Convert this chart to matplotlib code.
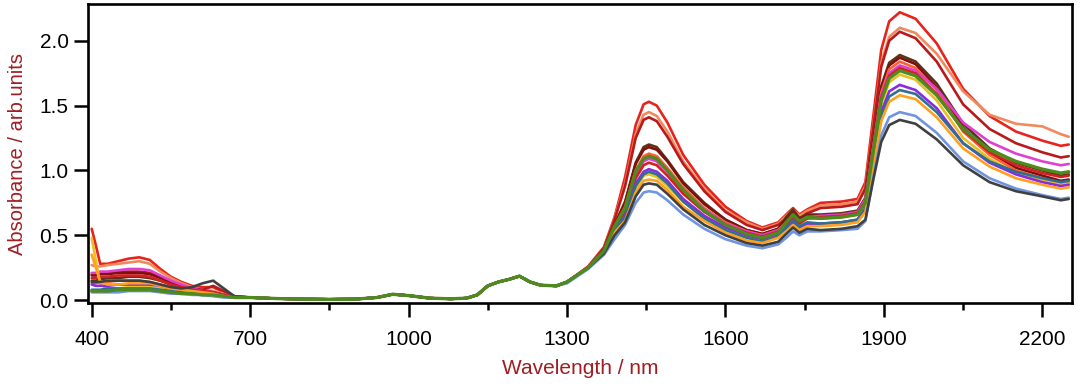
import numpy as np
import matplotlib.pyplot as plt

plt.rcParams['font.family'] = ['Liberation Sans', 'DejaVu Sans']

# wavelength grids (nm)
vis_wl = [400, 408, 416, 430, 450, 470, 490, 510, 530, 550, 570, 590, 610, 630, 650, 670]
mid_wl = [700, 750, 800, 850, 900, 940, 970, 1000, 1040, 1080, 1110, 1130, 1150, 1170,
          1190, 1210, 1230, 1250, 1280]
nir_wl = [1300, 1340, 1370, 1390, 1410, 1430, 1445, 1455, 1470, 1490, 1520, 1560, 1600,
          1640, 1670, 1700, 1715, 1728, 1740, 1755, 1780, 1820, 1850, 1865, 1880, 1895,
          1910, 1930, 1960, 2000, 2050, 2100, 2150, 2200, 2235, 2250]

# 700-1300 nm: all spectra lie on top of each other
mid_abs = [0.02, 0.012, 0.008, 0.006, 0.008, 0.02, 0.045, 0.035, 0.015, 0.01, 0.015,
           0.04, 0.11, 0.14, 0.16, 0.185, 0.14, 0.115, 0.11]

colors = ['#e8231c', '#f08a5d', '#b8191b', '#5c3317', '#7f1010', '#ff6030', '#e040d0',
          '#d42020', '#4f8a1e', '#e8c020', '#8a2be2', '#2f6f8f', '#ffa020', '#7095e0',
          '#404040']

vis_abs = [
    [0.55, 0.42, 0.28, 0.28, 0.30, 0.32, 0.33, 0.31, 0.24, 0.18, 0.14, 0.11, 0.10, 0.10, 0.06, 0.03],
    [0.27, 0.26, 0.26, 0.27, 0.28, 0.29, 0.30, 0.28, 0.22, 0.17, 0.13, 0.10, 0.08, 0.07, 0.05, 0.03],
    [0.20, 0.20, 0.21, 0.21, 0.22, 0.22, 0.22, 0.21, 0.18, 0.14, 0.11, 0.09, 0.08, 0.11, 0.07, 0.03],
    [0.15, 0.15, 0.16, 0.17, 0.17, 0.18, 0.18, 0.17, 0.15, 0.12, 0.10, 0.08, 0.07, 0.06, 0.04, 0.02],
    [0.19, 0.19, 0.20, 0.20, 0.21, 0.21, 0.21, 0.20, 0.17, 0.14, 0.11, 0.09, 0.07, 0.06, 0.04, 0.02],
    [0.13, 0.13, 0.14, 0.14, 0.15, 0.15, 0.15, 0.14, 0.12, 0.10, 0.08, 0.07, 0.06, 0.05, 0.04, 0.02],
    [0.21, 0.21, 0.22, 0.22, 0.23, 0.24, 0.24, 0.23, 0.19, 0.15, 0.12, 0.09, 0.07, 0.06, 0.04, 0.02],
    [0.17, 0.17, 0.18, 0.18, 0.19, 0.19, 0.19, 0.18, 0.15, 0.12, 0.10, 0.08, 0.07, 0.06, 0.04, 0.02],
    [0.07, 0.07, 0.07, 0.07, 0.08, 0.08, 0.08, 0.08, 0.07, 0.06, 0.05, 0.05, 0.04, 0.04, 0.03, 0.02],
    [0.48, 0.30, 0.12, 0.09, 0.09, 0.10, 0.10, 0.10, 0.09, 0.08, 0.07, 0.06, 0.05, 0.04, 0.03, 0.02],
    [0.12, 0.11, 0.11, 0.11, 0.12, 0.12, 0.12, 0.12, 0.11, 0.09, 0.08, 0.07, 0.06, 0.05, 0.03, 0.02],
    [0.08, 0.08, 0.08, 0.09, 0.09, 0.09, 0.09, 0.09, 0.08, 0.07, 0.06, 0.05, 0.04, 0.04, 0.03, 0.02],
    [0.35, 0.25, 0.14, 0.12, 0.12, 0.13, 0.13, 0.13, 0.11, 0.09, 0.08, 0.07, 0.06, 0.05, 0.03, 0.02],
    [0.06, 0.06, 0.06, 0.06, 0.06, 0.07, 0.07, 0.07, 0.06, 0.05, 0.05, 0.04, 0.04, 0.03, 0.02, 0.02],
    [0.14, 0.14, 0.14, 0.15, 0.15, 0.15, 0.15, 0.14, 0.12, 0.10, 0.09, 0.10, 0.13, 0.15, 0.09, 0.03],
]

nir_abs = [
    [0.14, 0.26, 0.41, 0.64, 0.95, 1.35, 1.51, 1.53, 1.50, 1.37, 1.12, 0.89, 0.72, 0.61, 0.56, 0.60, 0.66, 0.71,
     0.66, 0.70, 0.75, 0.76, 0.78, 0.91, 1.42, 1.93, 2.15, 2.22, 2.17, 1.98, 1.63, 1.42, 1.30, 1.23, 1.19, 1.20],
    [0.14, 0.25, 0.40, 0.63, 0.90, 1.28, 1.43, 1.45, 1.42, 1.30, 1.07, 0.86, 0.69, 0.60, 0.55, 0.59, 0.65, 0.70,
     0.65, 0.69, 0.73, 0.74, 0.76, 0.88, 1.35, 1.83, 2.03, 2.10, 2.06, 1.90, 1.61, 1.43, 1.36, 1.34, 1.28, 1.26],
    [0.14, 0.25, 0.40, 0.62, 0.88, 1.25, 1.39, 1.41, 1.38, 1.26, 1.05, 0.84, 0.68, 0.58, 0.54, 0.58, 0.63, 0.68,
     0.63, 0.67, 0.71, 0.72, 0.74, 0.86, 1.33, 1.80, 2.00, 2.07, 2.02, 1.84, 1.51, 1.32, 1.21, 1.14, 1.10, 1.11],
    [0.14, 0.25, 0.39, 0.58, 0.76, 1.06, 1.18, 1.20, 1.18, 1.08, 0.91, 0.75, 0.62, 0.54, 0.51, 0.55, 0.64, 0.70,
     0.63, 0.66, 0.66, 0.67, 0.69, 0.79, 1.22, 1.65, 1.83, 1.89, 1.84, 1.67, 1.36, 1.17, 1.06, 1.00, 0.96, 0.97],
    [0.14, 0.25, 0.38, 0.58, 0.75, 1.05, 1.16, 1.18, 1.16, 1.07, 0.90, 0.74, 0.62, 0.54, 0.51, 0.55, 0.62, 0.67,
     0.62, 0.65, 0.65, 0.66, 0.68, 0.78, 1.21, 1.63, 1.81, 1.87, 1.82, 1.64, 1.33, 1.14, 1.02, 0.96, 0.92, 0.93],
    [0.14, 0.25, 0.38, 0.57, 0.72, 1.00, 1.11, 1.13, 1.11, 1.02, 0.87, 0.71, 0.60, 0.53, 0.50, 0.54, 0.60, 0.65,
     0.60, 0.63, 0.63, 0.64, 0.66, 0.76, 1.18, 1.60, 1.78, 1.84, 1.79, 1.62, 1.30, 1.12, 1.00, 0.94, 0.90, 0.91],
    [0.14, 0.25, 0.38, 0.56, 0.70, 0.97, 1.07, 1.09, 1.07, 0.99, 0.84, 0.70, 0.59, 0.53, 0.50, 0.54, 0.59, 0.64,
     0.60, 0.64, 0.65, 0.66, 0.68, 0.78, 1.18, 1.58, 1.75, 1.81, 1.77, 1.63, 1.37, 1.22, 1.13, 1.07, 1.04, 1.05],
    [0.14, 0.25, 0.38, 0.56, 0.68, 0.94, 1.04, 1.06, 1.04, 0.96, 0.82, 0.68, 0.58, 0.52, 0.49, 0.53, 0.58, 0.63,
     0.59, 0.63, 0.64, 0.65, 0.67, 0.76, 1.16, 1.56, 1.73, 1.79, 1.75, 1.59, 1.31, 1.14, 1.04, 0.98, 0.95, 0.96],
    [0.14, 0.25, 0.38, 0.57, 0.71, 0.99, 1.09, 1.11, 1.09, 1.00, 0.85, 0.69, 0.58, 0.51, 0.48, 0.52, 0.60, 0.66,
     0.61, 0.64, 0.63, 0.64, 0.66, 0.75, 1.15, 1.54, 1.71, 1.77, 1.73, 1.58, 1.32, 1.16, 1.07, 1.01, 0.98, 0.99],
    [0.14, 0.25, 0.37, 0.54, 0.63, 0.86, 0.96, 0.97, 0.95, 0.88, 0.76, 0.63, 0.54, 0.49, 0.46, 0.50, 0.55, 0.60,
     0.56, 0.59, 0.59, 0.60, 0.62, 0.71, 1.11, 1.51, 1.68, 1.74, 1.70, 1.54, 1.25, 1.09, 0.98, 0.93, 0.89, 0.90],
    [0.14, 0.25, 0.37, 0.55, 0.65, 0.90, 0.99, 1.01, 0.99, 0.92, 0.78, 0.65, 0.56, 0.50, 0.47, 0.51, 0.55, 0.60,
     0.56, 0.59, 0.59, 0.60, 0.62, 0.71, 1.08, 1.45, 1.61, 1.66, 1.62, 1.48, 1.21, 1.06, 0.97, 0.91, 0.88, 0.89],
    [0.14, 0.25, 0.37, 0.55, 0.64, 0.88, 0.97, 0.99, 0.97, 0.90, 0.76, 0.63, 0.54, 0.48, 0.45, 0.49, 0.56, 0.62,
     0.57, 0.60, 0.59, 0.60, 0.62, 0.70, 1.06, 1.42, 1.57, 1.62, 1.59, 1.45, 1.21, 1.07, 0.99, 0.94, 0.91, 0.92],
    [0.14, 0.25, 0.37, 0.52, 0.61, 0.83, 0.92, 0.93, 0.92, 0.85, 0.72, 0.61, 0.52, 0.46, 0.44, 0.48, 0.53, 0.58,
     0.54, 0.57, 0.57, 0.58, 0.60, 0.68, 1.03, 1.38, 1.53, 1.58, 1.55, 1.41, 1.17, 1.03, 0.94, 0.89, 0.86, 0.87],
    [0.13, 0.24, 0.35, 0.47, 0.58, 0.75, 0.83, 0.84, 0.83, 0.77, 0.66, 0.55, 0.47, 0.42, 0.40, 0.43, 0.48, 0.53,
     0.50, 0.53, 0.53, 0.54, 0.55, 0.61, 0.95, 1.27, 1.41, 1.45, 1.42, 1.29, 1.07, 0.94, 0.86, 0.81, 0.78, 0.79],
    [0.14, 0.25, 0.36, 0.50, 0.60, 0.80, 0.89, 0.90, 0.89, 0.82, 0.70, 0.58, 0.50, 0.44, 0.42, 0.45, 0.51, 0.56,
     0.52, 0.55, 0.54, 0.55, 0.57, 0.62, 0.93, 1.22, 1.35, 1.39, 1.36, 1.24, 1.04, 0.91, 0.84, 0.80, 0.77, 0.78],
]

label_color = '#a11d21'

fig = plt.figure(figsize=(10.8, 3.87), dpi=100)
ax = fig.add_axes([0.0815, 0.2158, 0.911, 0.7726])

wl = vis_wl + mid_wl + nir_wl
order = [i for i in range(len(colors)) if i != 8] + [8]   # green is drawn on top
for i in order:
    y = vis_abs[i] + mid_abs + nir_abs[i]
    lw = 2.4 if i == 8 else 1.9
    ax.plot(wl, y, color=colors[i], lw=lw, solid_capstyle='round', solid_joinstyle='round')

ax.set_xlim(393, 2256)
ax.set_ylim(-0.026, 2.28)

ax.set_xticks(np.arange(400, 2201, 300))
ax.set_xticks(np.arange(550, 2201, 300), minor=True)
ax.set_yticks([0.0, 0.5, 1.0, 1.5, 2.0])
ax.set_yticklabels(['0.0', '0.5', '1.0', '1.5', '2.0'])

for s in ax.spines.values():
    s.set_linewidth(1.9)
ax.tick_params(which='major', direction='out', length=10, width=1.8, labelsize=15, pad=4)
ax.tick_params(which='minor', direction='out', length=5, width=1.8)
ax.tick_params(axis='x', pad=9)

ax.set_xlabel('Wavelength / nm', fontsize=15, color=label_color, labelpad=7)
ax.set_ylabel('Absorbance / arb.units', fontsize=14.5, color=label_color, labelpad=9)

fig.savefig('out.png', dpi=100)
